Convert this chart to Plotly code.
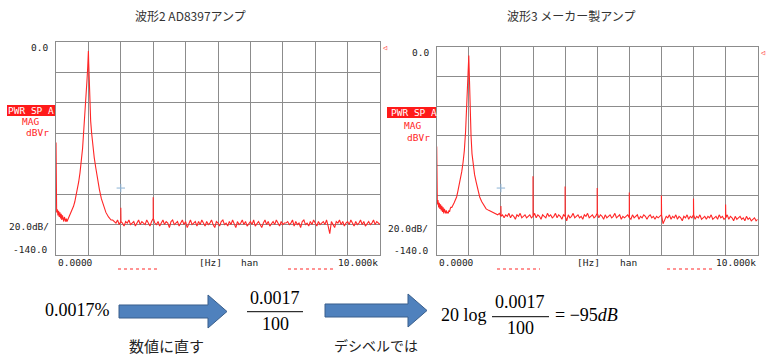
import plotly.graph_objects as go

W, H = 774, 356

# ---------------- data (frequency in kHz, level in dBVr) ----------------
# Left: 波形2 AD8397アンプ
L_low_f = [0.0, 0.005, 0.02, 0.04, 0.06, 0.08, 0.10, 0.12, 0.14, 0.16, 0.18, 0.20,
           0.22, 0.24, 0.26, 0.28, 0.30, 0.32, 0.34, 0.36, 0.38, 0.40, 0.42, 0.44]
L_low_db = [-66, -108, -112, -110, -114, -111, -115, -112, -116, -113, -117, -114,
            -116, -118, -115, -117, -118, -116, -118, -117, -116, -116, -115, -114]
L_pk_f = [0.47, 0.50, 0.54, 0.58, 0.62, 0.66, 0.70, 0.74, 0.78, 0.82, 0.86, 0.90, 0.93,
          0.96, 0.98, 0.99, 1.00, 1.01, 1.02, 1.04, 1.07, 1.10, 1.14, 1.18, 1.23, 1.28,
          1.34, 1.40, 1.47, 1.54, 1.62, 1.70]
L_pk_db = [-112, -110, -108, -105, -101, -97, -92, -86, -79, -70, -57, -46, -36,
           -24, -16, -12, -6, -14, -24, -40, -52, -60, -69, -76, -83, -90,
           -97, -103, -108, -112, -115, -117]
L_floor_start, L_floor_step = 1.75, 0.05
L_floor_db = [
    -117, -118, -119, -117, -120, -118, -119, -121, -118, -119,
    -117, -120, -119, -118, -121, -119, -117, -120, -118, -119,
    -120, -117, -119, -121, -118, -116, -119, -120, -118, -121,
    -119, -117, -120, -118, -119, -122, -118, -117, -120, -119,
    -118, -121, -119, -117, -120, -118, -122, -119, -117, -120,
    -119, -118, -121, -118, -120, -117, -119, -121, -118, -120,
    -119, -117, -120, -122, -118, -119, -121, -118, -117, -120,
    -119, -121, -118, -120, -117, -119, -122, -118, -120, -119,
    -117, -120, -118, -121, -119, -118, -120, -117, -121, -119,
    -118, -120, -122, -119, -117, -120, -118, -121, -119, -118,
    -120, -117, -119, -121, -118, -120, -119, -119, -118, -120,
    -119, -117, -121, -118, -120, -119, -122, -118, -117, -120,
    -119, -121, -118, -120, -117, -119, -121, -118, -120, -119,
    -118, -120, -117, -121, -126, -118, -120, -122, -118, -119,
    -117, -120, -118, -121, -119, -118, -120, -117, -119, -121,
    -118, -120, -119, -117, -120, -118, -121, -119, -118, -120,
    -119, -117, -120, -118, -119, -120]
L_harm_f = [2.0, 3.0]
L_harm_db = [-109, -102]
L_mark = (2.0, -96)

# Right: 波形3 メーカー製アンプ
R_low_f = [0.0, 0.005, 0.02, 0.04, 0.06, 0.08, 0.10, 0.12, 0.14, 0.16, 0.18, 0.20,
           0.22, 0.24, 0.26, 0.28, 0.30, 0.32, 0.34, 0.36, 0.38, 0.40, 0.42, 0.44]
R_low_db = [-67, -104, -106, -103, -108, -105, -109, -106, -110, -107, -111, -108,
            -112, -109, -111, -112, -110, -112, -111, -112, -110, -111, -109, -108]
R_pk_f = [0.47, 0.50, 0.54, 0.58, 0.62, 0.66, 0.70, 0.74, 0.78, 0.82, 0.86, 0.90, 0.93,
          0.96, 0.98, 0.99, 1.00, 1.01, 1.02, 1.04, 1.07, 1.10, 1.14, 1.18, 1.23, 1.28,
          1.34, 1.40, 1.47, 1.54, 1.62, 1.70, 1.78, 1.86]
R_pk_db = [-108, -107, -105, -103, -101, -97, -93, -88, -84, -78, -70, -57, -44,
           -30, -18, -12, -6, -14, -26, -44, -60, -72, -80, -86, -91, -96,
           -101, -104, -107, -109, -110, -111, -112, -113]
R_floor_start, R_floor_step = 1.90, 0.05
R_floor_db = [
    -113, -112, -114, -113, -115, -113, -114, -112, -115, -113,
    -114, -116, -113, -114, -112, -115, -114, -113, -115, -114,
    -113, -115, -114, -112, -115, -113, -114, -116, -113, -114,
    -115, -112, -114, -113, -115, -114, -112, -115, -113, -114,
    -116, -113, -114, -117, -113, -115, -114, -112, -115, -114,
    -113, -115, -114, -116, -113, -114, -112, -115, -114, -113,
    -115, -114, -112, -115, -113, -114, -116, -113, -115, -114,
    -113, -115, -114, -112, -115, -114, -113, -116, -114, -115,
    -114, -113, -115, -116, -113, -115, -114, -113, -116, -114,
    -115, -113, -114, -116, -114, -113, -115, -114, -116, -114,
    -115, -114, -113, -119, -116, -114, -115, -113, -116, -114,
    -115, -113, -116, -114, -115, -117, -114, -115, -113, -116,
    -114, -115, -113, -116, -114, -115, -113, -116, -115, -114,
    -116, -114, -115, -113, -116, -115, -114, -116, -113, -115,
    -114, -116, -115, -113, -116, -114, -115, -117, -114, -116,
    -115, -114, -116, -115, -117, -114, -116, -115, -117, -116,
    -115, -117, -116]
R_harm_f = [2.0, 3.0, 4.0, 5.0, 6.0, 7.0, 8.0, 9.0]
R_harm_db = [-107, -87, -94, -95, -98, -100, -102, -106]
R_mark = (2.0, -95)

titles = ["波形2 AD8397アンプ", "波形3 メーカー製アンプ"]
eq_text = ["0.0017%", "数値に直す", "0.0017", "100", "デシベルでは",
           "20 log", "0.0017", "100", "= \u221295<i>dB</i>"]


def build(low_f, low_db, pk_f, pk_db, f0, step, floor_db, hf, hdb):
    pts = list(zip(low_f, low_db)) + list(zip(pk_f, pk_db))
    floor_f = [round(f0 + i * step, 4) for i in range(len(floor_db))]
    pts += list(zip(floor_f, floor_db))
    lookup = dict(zip(floor_f, floor_db))
    for f, d in zip(hf, hdb):
        base = lookup.get(round(f, 4), floor_db[0])
        pts.append((f, d))
        pts.append((f + 0.006, base))
    pts.sort(key=lambda p: p[0])
    return [p[0] for p in pts], [p[1] for p in pts]


Lx, Ly = build(L_low_f, L_low_db, L_pk_f, L_pk_db, L_floor_start, L_floor_step,
               L_floor_db, L_harm_f, L_harm_db)
Rx, Ry = build(R_low_f, R_low_db, R_pk_f, R_pk_db, R_floor_start, R_floor_step,
               R_floor_db, R_harm_f, R_harm_db)


def px(x):
    return x / W


def py(y):
    return 1 - y / H


RED = "#ff2626"
GRID = "#8c8c8c"
MONO = "DejaVu Sans Mono"
CJK = "Noto Sans CJK JP"
SERIF = "Liberation Serif"
MS = 9.5

fig = go.Figure()
fig.add_trace(go.Scatter(x=Lx, y=Ly, mode="lines", line=dict(color=RED, width=1.1),
                         xaxis="x", yaxis="y", showlegend=False, hoverinfo="skip"))
fig.add_trace(go.Scatter(x=Rx, y=Ry, mode="lines", line=dict(color=RED, width=1.1),
                         xaxis="x2", yaxis="y2", showlegend=False, hoverinfo="skip"))
fig.add_trace(go.Scatter(x=[L_mark[0]], y=[L_mark[1]], mode="markers",
                         marker=dict(symbol="cross-thin", size=6,
                                     line=dict(color="#8fb4d6", width=1)),
                         xaxis="x", yaxis="y", showlegend=False, hoverinfo="skip"))
fig.add_trace(go.Scatter(x=[R_mark[0]], y=[R_mark[1]], mode="markers",
                         marker=dict(symbol="cross-thin", size=6,
                                     line=dict(color="#8fb4d6", width=1)),
                         xaxis="x2", yaxis="y2", showlegend=False, hoverinfo="skip"))

axx = dict(range=[0, 10], dtick=1, showgrid=True, gridcolor=GRID, gridwidth=1,
           showline=True, mirror=True, linecolor=GRID, linewidth=1,
           showticklabels=False, zeroline=False, ticks="", fixedrange=True)
axy = dict(range=[-140, 0], dtick=20, showgrid=True, gridcolor=GRID, gridwidth=1,
           showline=True, mirror=True, linecolor=GRID, linewidth=1,
           showticklabels=False, zeroline=False, ticks="", fixedrange=True)

L_box = (56, 380, 42, 255)
R_box = (436.7, 757.7, 46.7, 255)

fig.update_layout(
    width=W, height=H, margin=dict(l=0, r=0, t=0, b=0),
    paper_bgcolor="white", plot_bgcolor="white", showlegend=False,
    xaxis=dict(axx, domain=[px(L_box[0]), px(L_box[1])], anchor="y"),
    yaxis=dict(axy, domain=[py(L_box[3]), py(L_box[2])], anchor="x"),
    xaxis2=dict(axx, domain=[px(R_box[0]), px(R_box[1])], anchor="y2"),
    yaxis2=dict(axy, domain=[py(R_box[3]), py(R_box[2])], anchor="x2"),
)

ann = []
shapes = []


def text(x, y, s, size=MS, color="#222", font=MONO, xanchor="center", yanchor="middle"):
    ann.append(dict(x=px(x), y=py(y), xref="paper", yref="paper", text=s,
                    showarrow=False, xanchor=xanchor, yanchor=yanchor,
                    font=dict(family=font, size=size, color=color)))


# titles
text(190, 15, titles[0], size=12, font=CJK, color="#333")
text(571, 15, titles[1], size=12, font=CJK, color="#333")

# analyzer labels (left and right screens)
for (x0, x1, y0, y1), o in [(L_box, dict(zero=(50, 47), box=(7, 55, 105, 116), pwr=31,
                                         mag=(30.5, 121.5), dbv=(37.5, 132),
                                         div=(7, 227), bot=(50, 249))),
                            (R_box, dict(zero=(431, 53), box=(387, 436, 107, 118), pwr=414,
                                         mag=(412.5, 126), dbv=(418, 137),
                                         div=(386, 228), bot=(431, 250)))]:
    text(o["zero"][0], o["zero"][1], "0.0", xanchor="right")
    bx0, bx1, by0, by1 = o["box"]
    shapes.append(dict(type="rect", xref="paper", yref="paper", x0=px(bx0), x1=px(bx1),
                       y0=py(by1), y1=py(by0), fillcolor="#ff1a1a", line=dict(width=0)))
    text(o["pwr"], (by0 + by1) / 2, "PWR SP A", color="white")
    text(o["mag"][0], o["mag"][1], "MAG", color=RED)
    text(o["dbv"][0], o["dbv"][1], "dBVr", color=RED)
    text(o["div"][0], o["div"][1], "20.0dB/", xanchor="left")
    text(o["bot"][0], o["bot"][1], "-140.0", xanchor="right")
    text(x0, 262, "0.0000", xanchor="left")
    text(x1, 262, "10.000k", xanchor="right")
    text(x1 + 1, y0 + 6, "\u25c1", size=7, color=RED, xanchor="left")

text(197, 262, "[Hz]", xanchor="left")
text(239, 262, "han", xanchor="left")
text(575, 262, "[Hz]", xanchor="left")
text(618, 262, "han", xanchor="left")

# faint cut-off red text at the bottom edge of the screens
for a, b in [(118, 160), (288, 333), (497, 540), (667, 713)]:
    shapes.append(dict(type="line", xref="paper", yref="paper", x0=px(a), x1=px(b),
                       y0=py(269), y1=py(269), line=dict(color="#ff7070", width=1.5, dash="dot")))

# ---------- bottom equation ----------
def arrow(x0, xh, xt, ys0, ys1, yh0, yh1):
    yc = (yh0 + yh1) / 2
    pts = [(x0, ys0), (xh, ys0), (xh, yh0), (xt, yc), (xh, yh1), (xh, ys1), (x0, ys1)]
    path = "M " + " L ".join(f"{px(a):.5f},{py(b):.5f}" for a, b in pts) + " Z"
    shapes.append(dict(type="path", xref="paper", yref="paper", path=path,
                       fillcolor="#4f81bd", line=dict(color="#3a5f8c", width=1)))


arrow(119, 208, 227, 305, 318, 295, 328)
arrow(325, 408, 427, 304, 317, 294, 327)

text(77, 310, eq_text[0], size=18, font=SERIF, color="black")
text(166, 345, eq_text[1], size=15, font=CJK, color="#222")
text(275, 297.5, eq_text[2], size=18, font=SERIF, color="black")
text(275, 324, eq_text[3], size=18, font=SERIF, color="black")
shapes.append(dict(type="line", xref="paper", yref="paper", x0=px(247), x1=px(303),
                   y0=py(311.7), y1=py(311.7), line=dict(color="black", width=1)))
text(376, 345, eq_text[4], size=14, font=CJK, color="#222")
text(464, 315, eq_text[5], size=18, font=SERIF, color="black")
text(520, 301.7, eq_text[6], size=18, font=SERIF, color="black")
text(520, 328, eq_text[7], size=18, font=SERIF, color="black")
shapes.append(dict(type="line", xref="paper", yref="paper", x0=px(492), x1=px(549),
                   y0=py(316.7), y1=py(316.7), line=dict(color="black", width=1)))
text(553, 315, eq_text[8], size=18, font=SERIF, color="black", xanchor="left")

fig.update_layout(annotations=ann, shapes=shapes)
fig.write_html("out.html", config={"displayModeBar": False},
               post_script="document.body.style.margin='0';document.body.style.overflow='hidden';")
